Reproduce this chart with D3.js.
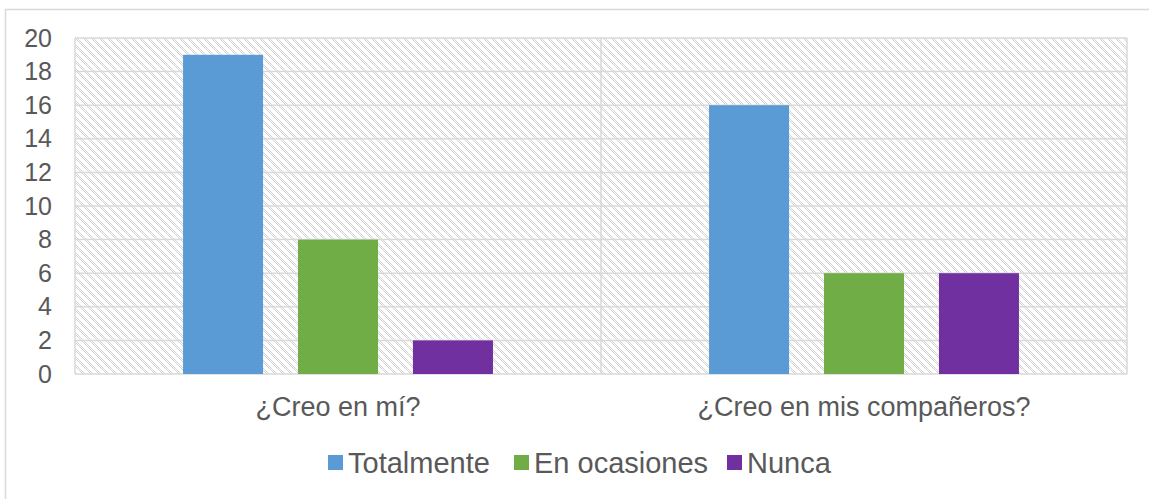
<!DOCTYPE html>
<html>
<head>
<meta charset="utf-8">
<script src="https://cdn.jsdelivr.net/npm/d3@7"></script>
<style>
  body { margin: 0; background: white; }
  text { font-family: "Liberation Sans", Arial, sans-serif; fill: #595959; }
</style>
</head>
<body>
<div id="container"></div>
<script>
let w = 1149;
let h = 499;

// data
let categories = ["¿Creo en mí?", "¿Creo en mis compañeros?"];
let seriesNames = ["Totalmente", "En ocasiones", "Nunca"];
let seriesColors = ["#5b9bd5", "#70ad47", "#7030a0"];
let totalmente = [19, 16];
let enOcasiones = [8, 6];
let nunca = [2, 6];
let yTicks = [0, 2, 4, 6, 8, 10, 12, 14, 16, 18, 20];

let seriesValues = [totalmente, enOcasiones, nunca];

let margin = {left: 75, right: 22, top: 38, bottom: 125};

let viz = d3.select("#container")
  .append("svg")
    .attr("width", w)
    .attr("height", h)
;

// hatch pattern for plot background: checkered diagonal stripes
let defs = viz.append("defs");
let pat = defs.append("pattern")
    .attr("id", "hatch")
    .attr("patternUnits", "userSpaceOnUse")
    .attr("x", 75)
    .attr("y", 38)
    .attr("width", 8)
    .attr("height", 8)
;
pat.append("rect").attr("width", 8).attr("height", 8).attr("fill", "white");
for (let r = 0; r < 8; r++) {
  for (let c = 0; c < 8; c++) {
    let band = ((c - r) % 8 + 8) % 8;
    if (band < 4 && (c + r) % 2 === 0) {
      pat.append("rect")
        .attr("x", c)
        .attr("y", r)
        .attr("width", 1)
        .attr("height", 1)
        .attr("fill", "#d4d4d4");
    }
  }
}

// outer chart border
viz.append("rect")
    .attr("x", 5.5)
    .attr("y", 9.5)
    .attr("width", w + 10)
    .attr("height", h + 10)
    .attr("fill", "none")
    .style("stroke", "#d9d9d9")
    .style("stroke-width", 1.5)
;

let x0 = d3.scaleBand()
    .domain(categories)
    .range([margin.left, w - margin.right])
;

let x1 = d3.scaleBand()
    .domain(seriesNames)
    .range([0, x0.bandwidth()])
    .paddingInner(0.304)
    .paddingOuter(0.94)
;

let y = d3.scaleLinear()
    .domain([0, 20])
    .range([h - margin.bottom, margin.top])
;

// plot background
viz.append("rect")
    .attr("x", margin.left)
    .attr("y", margin.top)
    .attr("width", w - margin.left - margin.right)
    .attr("height", y(0) - margin.top)
    .attr("fill", "url(#hatch)")
;

// grid lines
viz.append("g")
  .selectAll("line").data(yTicks).enter()
  .append("line")
    .attr("x1", margin.left)
    .attr("x2", w - margin.right)
    .attr("y1", d => y(d))
    .attr("y2", d => y(d))
    .style("stroke", "#d9d9d9")
    .style("stroke-width", 1.5)
;

// vertical category dividers
let dividers = [margin.left, x0(categories[1]), w - margin.right];
viz.append("g")
  .selectAll("line").data(dividers).enter()
  .append("line")
    .attr("x1", d => d)
    .attr("x2", d => d)
    .attr("y1", margin.top)
    .attr("y2", y(0))
    .style("stroke", "#d9d9d9")
    .style("stroke-width", 1.5)
;

// bars
let groups = viz.selectAll(".catGroup").data(categories).enter()
  .append("g")
    .attr("class", "catGroup")
    .attr("transform", d => "translate(" + x0(d) + ",0)")
;

groups.selectAll("rect")
  .data((c, ci) => seriesNames.map((s, si) => ({s: s, si: si, v: seriesValues[si][ci]})))
  .enter()
  .append("rect")
    .attr("x", d => x1(d.s))
    .attr("width", x1.bandwidth())
    .attr("y", d => y(d.v))
    .attr("height", d => y(0) - y(d.v))
    .attr("fill", d => seriesColors[d.si])
;

// y axis labels
let yAxis = d3.axisLeft(y).tickValues(yTicks).tickSize(0).tickPadding(23);
let yG = viz.append("g")
    .attr("transform", "translate(" + margin.left + ",0)")
    .call(yAxis)
;
yG.select(".domain").remove();
yG.selectAll("text")
    .style("font-size", "25px")
    .style("fill", "#595959")
    .style("font-family", "Liberation Sans, Arial, sans-serif")
;

// x axis labels
let xAxis = d3.axisBottom(x0).tickSize(0);
let xG = viz.append("g")
    .attr("transform", "translate(0," + y(0) + ")")
    .call(xAxis)
;
xG.select(".domain").remove();
xG.selectAll("text")
    .attr("dy", null)
    .attr("y", 42)
    .style("font-size", "27px")
    .style("fill", "#595959")
    .style("font-family", "Liberation Sans, Arial, sans-serif")
;

// legend
let legendX = [328, 514, 727];
let legend = viz.selectAll(".legendItem").data(seriesNames).enter()
  .append("g")
    .attr("class", "legendItem")
    .attr("transform", (d, i) => "translate(" + legendX[i] + ",455)")
;
legend.append("rect")
    .attr("width", 15)
    .attr("height", 15)
    .attr("fill", (d, i) => seriesColors[i])
;
legend.append("text")
    .text(d => d)
    .attr("x", 20)
    .attr("y", 18)
    .style("font-size", "29px")
;
</script>
</body>
</html>
